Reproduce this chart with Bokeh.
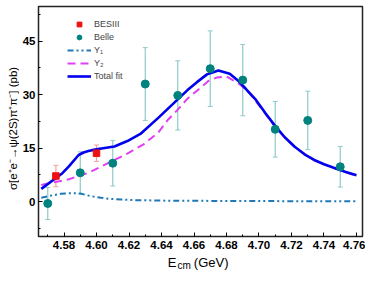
import math
from bokeh.plotting import figure
from bokeh.layouts import row, column
from bokeh.models import (ColumnDataSource, Whisker, TeeHead, Legend, LegendItem,
                          FixedTicker, Label, Range1d)
from bokeh.embed import file_html
from bokeh.resources import INLINE

# ---- data ----
bes_E = [4.575, 4.600]
bes_s = [7.2, 13.6]
bes_err = [3.0, 2.3]

belle_E = [4.57, 4.59, 4.61, 4.63, 4.65, 4.67, 4.69, 4.71, 4.73, 4.75]
belle_s = [-0.5, 8.1, 10.8, 33.0, 29.8, 37.3, 34.1, 20.3, 22.8, 9.8]
belle_err = [4.5, 5.9, 6.4, 10.2, 9.7, 10.6, 10.0, 7.8, 8.2, 5.7]

tot_E = [4.566, 4.574, 4.579, 4.583, 4.589, 4.592, 4.595, 4.599, 4.603, 4.611, 4.619,
         4.627, 4.638, 4.650, 4.656, 4.662, 4.668, 4.675, 4.682, 4.687, 4.692, 4.698,
         4.704, 4.710, 4.716, 4.722, 4.728, 4.734, 4.740, 4.746, 4.753, 4.760]
tot_s = [3.6, 6.3, 8.0, 9.9, 13.1, 13.8, 14.2, 14.6, 14.9, 15.5, 17.0,
         19.0, 23.5, 28.7, 31.3, 33.6, 35.7, 36.8, 35.9, 34.0, 31.6, 28.6,
         24.8, 21.2, 18.0, 15.4, 13.3, 11.7, 10.5, 9.5, 8.4, 7.4]

y2_E = [4.566, 4.583, 4.595, 4.607, 4.619, 4.629, 4.638, 4.644, 4.650, 4.656, 4.662,
        4.669, 4.674, 4.680, 4.688, 4.694, 4.698, 4.704, 4.710, 4.716, 4.722, 4.734,
        4.746, 4.760]
y2_s = [4.7, 6.3, 8.1, 10.8, 13.5, 16.1, 19.4, 23.0, 25.8, 28.9, 31.2,
        33.9, 34.8, 35.1, 33.0, 30.5, 28.2, 24.6, 21.0, 17.9, 15.3, 11.6,
        9.4, 7.2]

y1_E = [4.566, 4.572, 4.578, 4.585, 4.590, 4.596, 4.603, 4.608, 4.615, 4.622,
        4.642, 4.680, 4.720, 4.760]
y1_s = [1.1, 1.7, 2.2, 2.4, 2.3, 1.6, 1.1, 0.8, 0.6, 0.45,
        0.3, 0.2, 0.15, 0.1]

x_major = [4.58, 4.60, 4.62, 4.64, 4.66, 4.68, 4.70, 4.72, 4.74, 4.76]
x_minor = [4.57, 4.59, 4.61, 4.63, 4.65, 4.67, 4.69, 4.71, 4.73, 4.75]
y_major = [0, 15, 30, 45]
y_minor = [-7.5, 7.5, 22.5, 37.5, 52.5]

y_title = "\u03c3[e\u207ae\u207b\u2192\u03c8(2S)\u03c0\u207a\u03c0\u207b] (pb)"

FONT = "Liberation Sans"

xr = Range1d(4.5643, 4.7637)
yr = Range1d(-9.76, 54.74)

p = figure(width=346, height=252, x_range=xr, y_range=yr, output_backend="svg",
           toolbar_location=None, min_border_left=16, min_border_right=3,
           min_border_top=6, min_border_bottom=16)
p.grid.visible = False
p.background_fill_color = "white"
p.border_fill_color = "white"
p.outline_line_color = "#222222"
p.outline_line_width = 1.5

for ax in (p.xaxis[0], p.yaxis[0]):
    ax.axis_line_color = None
    ax.major_tick_in = 4
    ax.major_tick_out = 0
    ax.minor_tick_in = 2
    ax.minor_tick_out = 0
    ax.major_tick_line_color = "black"
    ax.minor_tick_line_color = "black"
    ax.major_label_text_font = FONT
    ax.major_label_text_font_style = "bold"
    ax.major_label_text_font_size = "11.5px"
    ax.major_label_text_color = "black"

p.xaxis[0].ticker = FixedTicker(ticks=x_major, minor_ticks=x_minor)
p.yaxis[0].ticker = FixedTicker(ticks=y_major, minor_ticks=y_minor)
p.xaxis[0].major_label_standoff = 4
p.yaxis[0].major_label_standoff = 3
p.xaxis[0].major_label_overrides = {t: f"{t:.2f}" for t in x_major}

# error bars
bes_src = ColumnDataSource(dict(x=bes_E, y=bes_s,
                                up=[v + e for v, e in zip(bes_s, bes_err)],
                                lo=[v - e for v, e in zip(bes_s, bes_err)]))
belle_src = ColumnDataSource(dict(x=belle_E, y=belle_s,
                                  up=[v + e for v, e in zip(belle_s, belle_err)],
                                  lo=[v - e for v, e in zip(belle_s, belle_err)]))

for src, col in ((belle_src, "#8fcaca"), (bes_src, "#f5a0a0")):
    w = Whisker(source=src, base="x", upper="up", lower="lo", line_color=col,
                line_width=1.2, level="underlay",
                upper_head=TeeHead(size=5, line_color=col, line_width=1),
                lower_head=TeeHead(size=5, line_color=col, line_width=1))
    p.add_layout(w)

r_y1 = p.line(y1_E, y1_s, line_color="#1f78b8", line_width=2, line_dash="6 3 2 3 2 3")
r_y2 = p.line(y2_E, y2_s, line_color="#e040f0", line_width=2, line_dash="8 5")
r_tot = p.line(tot_E, tot_s, line_color="#0000ee", line_width=2.6)

r_bes = p.scatter("x", "y", source=bes_src, marker="square", size=6.5,
                  fill_color="#ee1111", line_color="#ee1111")
r_belle = p.scatter("x", "y", source=belle_src, marker="circle", size=8,
                    fill_color="#00827f", line_color="#00827f")

legend = Legend(items=[LegendItem(label="BESIII", renderers=[r_bes]),
                       LegendItem(label="Belle", renderers=[r_belle]),
                       LegendItem(label="Y\u2081", renderers=[r_y1]),
                       LegendItem(label="Y\u2082", renderers=[r_y2]),
                       LegendItem(label="Total fit", renderers=[r_tot])],
                location=(29, 154), border_line_color=None,
                background_fill_alpha=0, padding=6, spacing=1,
                glyph_width=24, glyph_height=12, label_height=12,
                label_standoff=3, label_text_font=FONT,
                label_text_font_size="9px")
p.add_layout(legend)

# y-axis title strip (left)
fy = figure(width=19, height=272, x_range=Range1d(0, 19), y_range=Range1d(0, 272),
            output_backend="svg", toolbar_location=None,
            x_axis_location=None, y_axis_location=None,
            min_border_left=0, min_border_right=0, min_border_top=0, min_border_bottom=0)
fy.grid.visible = False
fy.outline_line_color = None
fy.add_layout(Label(x=12, y=144, text=y_title, angle=math.pi / 2,
                    text_align="center", text_baseline="middle",
                    text_font=FONT, text_font_size="11.5px", text_color="black"))

# x-axis title strip (bottom)
fx = figure(width=346, height=20, x_range=xr, y_range=Range1d(0, 20),
            output_backend="svg", toolbar_location=None,
            x_axis_location=None, y_axis_location=None,
            min_border_left=16, min_border_right=3, min_border_top=0, min_border_bottom=0)
fx.grid.visible = False
fx.outline_line_color = None
fx.add_layout(Label(x=4.6439, y=10.5, text="E", text_font=FONT, text_font_size="13px",
                    text_baseline="middle", text_color="black"))
fx.add_layout(Label(x=4.6499, y=7.5, text="cm", text_font=FONT, text_font_size="10px",
                    text_baseline="middle", text_color="black"))
fx.add_layout(Label(x=4.6599, y=10.5, text="(GeV)", text_font=FONT, text_font_size="13px",
                    text_baseline="middle", text_color="black"))

layout = row(fy, column(p, fx))

open("out.html", "w").write(file_html(layout, INLINE))
